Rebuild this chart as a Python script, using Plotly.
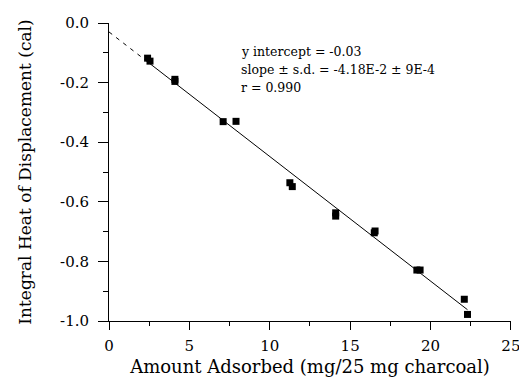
import plotly.graph_objects as go

# Data
amount = [2.4, 2.55, 4.1, 4.1, 7.1, 7.9, 11.25, 11.4, 14.1, 14.1, 16.55, 16.5, 19.15, 19.35, 22.1, 22.3]
heat = [-0.118, -0.128, -0.189, -0.196, -0.331, -0.330, -0.536, -0.549, -0.637, -0.648, -0.698, -0.704, -0.829, -0.829, -0.927, -0.978]

intercept = -0.03
slope = -0.0418

x_tickvals = [0, 5, 10, 15, 20, 25]
x_ticktext = ["0", "5", "10", "15", "20", "25"]
y_tickvals = [0.0, -0.2, -0.4, -0.6, -0.8, -1.0]
y_ticktext = ["0.0", "-0.2", "-0.4", "-0.6", "-0.8", "-1.0"]

annotation_lines = ["y intercept = -0.03", "slope \u00b1 s.d. = -4.18E-2 \u00b1 9E-4", "r = 0.990"]
annotation_y = [0.906, 0.844, 0.783]

FONT = "DejaVu Serif"

xmin = min(amount)
xmax = max(amount)

fig = go.Figure()
fig.add_trace(go.Scatter(
    x=[0, xmin], y=[intercept, intercept + slope * xmin],
    mode="lines", line=dict(color="black", width=1, dash="4px,5px"),
    showlegend=False, hoverinfo="skip"))
fig.add_trace(go.Scatter(
    x=[xmin, xmax], y=[intercept + slope * xmin, intercept + slope * xmax],
    mode="lines", line=dict(color="black", width=1),
    showlegend=False, hoverinfo="skip"))
fig.add_trace(go.Scatter(
    x=amount, y=heat, mode="markers",
    marker=dict(symbol="square", size=7, color="black"),
    showlegend=False, cliponaxis=False))

for line_text, ly in zip(annotation_lines, annotation_y):
    fig.add_annotation(
        x=0.324, y=ly, xref="paper", yref="paper",
        xanchor="left", yanchor="middle", align="left", showarrow=False,
        text=line_text,
        font=dict(family=FONT, size=12.5, color="black"))

fig.update_xaxes(
    range=[0, 25.005], showline=True, linecolor="black", linewidth=1,
    showgrid=False, zeroline=False, automargin=False,
    tickvals=x_tickvals, ticktext=x_ticktext,
    ticks="outside", ticklen=8, tickwidth=1, tickcolor="black",
    minor=dict(dtick=2.5, tick0=0, ticks="outside", ticklen=4, tickcolor="black", showgrid=False),
    ticklabelstandoff=3, ticklabeloverflow="allow",
    tickfont=dict(family=FONT, size=15, color="black"),
    title=dict(text="Amount Adsorbed (mg/25 mg charcoal)", standoff=6,
               font=dict(family=FONT, size=18, color="black")))
fig.update_yaxes(
    range=[-1.0, 0.0], showline=True, linecolor="black", linewidth=1,
    showgrid=False, zeroline=False, automargin=False,
    tickvals=y_tickvals, ticktext=y_ticktext,
    ticks="outside", ticklen=10, tickwidth=1, tickcolor="black",
    minor=dict(dtick=0.1, tick0=0, ticks="outside", ticklen=5, tickcolor="black", showgrid=False),
    ticklabelstandoff=6,
    tickfont=dict(family=FONT, size=15, color="black"),
    title=dict(text="Integral Heat of Displacement (cal)", standoff=24,
               font=dict(family=FONT, size=17, color="black")))

fig.update_layout(
    width=519, height=380,
    margin=dict(l=109, r=8, t=23, b=59),
    plot_bgcolor="white", paper_bgcolor="white",
)

fig.write_html("out.html")
